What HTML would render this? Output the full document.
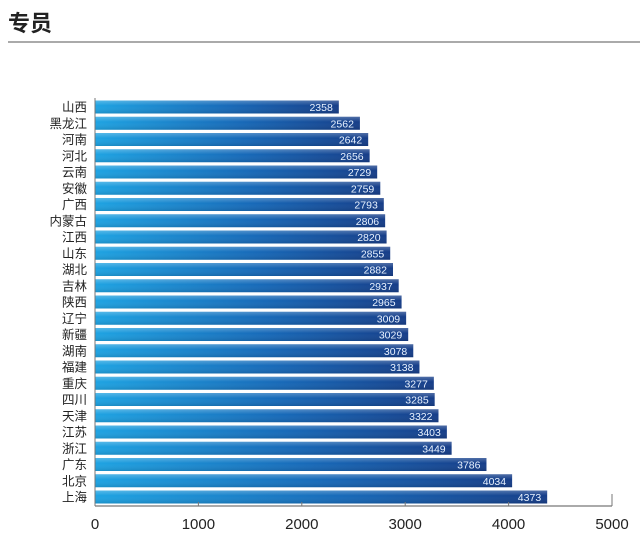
<!DOCTYPE html>
<html><head><meta charset="utf-8"><style>
body{margin:0;background:#fff;width:640px;height:537px;overflow:hidden;font-family:"Liberation Sans","Noto Sans CJK SC",sans-serif}
</style></head><body>
<div style="position:absolute;left:8px;top:6px;font-size:22px;font-weight:bold;color:#222;font-family:'Noto Sans CJK SC',sans-serif">专员</div>
<div style="position:absolute;left:8px;top:41px;width:632px;height:2px;background:#aaa"></div>
<svg id="c" width="640" height="537" style="position:absolute;left:0;top:0">
<defs>
<linearGradient id="g" x1="0" x2="1" y1="0" y2="0"><stop offset="0" stop-color="#1ea3e2"/><stop offset="0.55" stop-color="#1769b8"/><stop offset="1" stop-color="#163d88"/></linearGradient>
<linearGradient id="h" x1="0" x2="0" y1="0" y2="1"><stop offset="0" stop-color="#fff" stop-opacity="0.25"/><stop offset="0.4" stop-color="#fff" stop-opacity="0"/><stop offset="1" stop-color="#000" stop-opacity="0.12"/></linearGradient>
</defs>
</svg>
<script>
const categories=["山西","黑龙江","河南","河北","云南","安徽","广西","内蒙古","江西","山东","湖北","吉林","陕西","辽宁","新疆","湖南","福建","重庆","四川","天津","江苏","浙江","广东","北京","上海"];
const values=[2358,2562,2642,2656,2729,2759,2793,2806,2820,2855,2882,2937,2965,3009,3029,3078,3138,3277,3285,3322,3403,3449,3786,4034,4373];
const ticks=[0,1000,2000,3000,4000,5000];
const svg=document.getElementById('c'),NS="http://www.w3.org/2000/svg";
const x0=95,x1=612,vmax=5000,yTop=100.5,pitch=16.25,bh=13,axisY=506;
const xs=v=>x0+(x1-x0)*v/vmax;
function mk(t,a){const e=document.createElementNS(NS,t);for(const k in a)e.setAttribute(k,a[k]);svg.appendChild(e);return e;}
categories.forEach((c,i)=>{
 const y=yTop+i*pitch;
 const r=mk('rect',{x:x0,y:y,width:xs(values[i])-x0,height:bh,fill:'url(#g)'});
 
 
 const r2=mk('rect',{x:x0,y:y,width:xs(values[i])-x0,height:bh,fill:'url(#h)'});
 
 
 const v=mk('text',{x:xs(values[i])-6,y:y+10.5,'text-anchor':'end','font-size':10.5,fill:'#e8f2ff'});
 v.textContent=values[i];
 
 
 const l=mk('text',{x:87,y:y+11,'text-anchor':'end','font-size':12.5,fill:'#222','font-family':'Noto Sans CJK SC,sans-serif'});
 l.textContent=c;
 
 
});
const ax=mk('line',{x1:x0,x2:x1,y1:axisY,y2:axisY,stroke:'#777','stroke-width':1.2});


const ay=mk('line',{x1:x0,x2:x0,y1:98,y2:axisY,stroke:'#777','stroke-width':1});


ticks.forEach(t=>{
 const tk=mk('line',{x1:xs(t),x2:xs(t),y1:axisY-(t===5000?12:4),y2:axisY,stroke:'#777','stroke-width':1});
 
 
 const tl=mk('text',{x:xs(t),y:529,'text-anchor':'middle','font-size':15,fill:'#222'});
 tl.textContent=t;
 
 
});
</script>
</body></html>
